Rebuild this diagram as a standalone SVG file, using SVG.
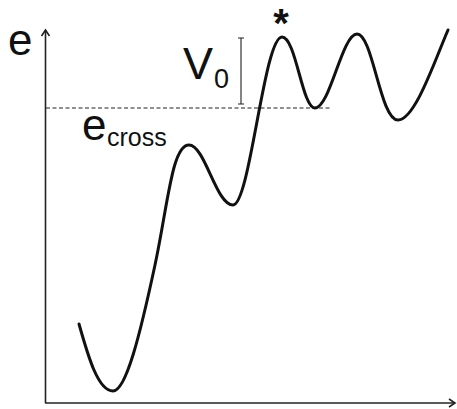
<svg xmlns="http://www.w3.org/2000/svg" width="457" height="409" viewBox="0 0 457 409">
<style>
.axis{fill:none;stroke:#222;stroke-width:1.6}
.curve{fill:none;stroke:#111;stroke-width:3;stroke-linecap:round;stroke-linejoin:round}
.dash{fill:none;stroke:#222;stroke-width:1.1;stroke-dasharray:4 2.5}
.thin{fill:none;stroke:#222;stroke-width:1.1}
text{font-family:"Liberation Sans",Arial,sans-serif;fill:#111}
</style>
<defs>
<marker id="arr" markerWidth="10" markerHeight="10" refX="7" refY="5" orient="auto" markerUnits="userSpaceOnUse">
<path d="M1,1 L7,5 L1,9" fill="none" stroke="#222" stroke-width="1.6"/>
</marker>
</defs>
<rect width="457" height="409" fill="#fff"/>
<g id="axes">
<path class="axis" d="M45.5,403 L45.5,30" marker-end="url(#arr)"/>
<path class="axis" d="M45,403 L455,403" marker-end="url(#arr)"/>
</g>
<g id="connectors">
<path class="dash" d="M46,108 L330,108"/>
<path class="thin" d="M241,38 L241,104 M238,38 L244,38 M238,104 L244,104"/>
</g>
<g id="curve">
<path class="curve" d="M79,324 C88,356 98,391 113,391 C126,391 140,335 155,265 C168,204 172,145 189,145 C205,145 216,205 233,205 C250,205 264,37 282,37 C296,37 302,108 315,108 C330,108 342,34 357,34 C373,34 380,120 398,120 C415,120 435,60 448,30"/>
</g>
<g id="labels">
<text x="8" y="55" font-size="44">e</text>
<text x="183" y="79" font-size="45">V</text>
<text x="214" y="88" font-size="27">0</text>
<text x="82" y="140" font-size="44">e</text>
<text x="107" y="146" font-size="25">cross</text>
<text x="281" y="37" font-size="40" font-weight="bold" text-anchor="middle">*</text>
</g>
</svg>
